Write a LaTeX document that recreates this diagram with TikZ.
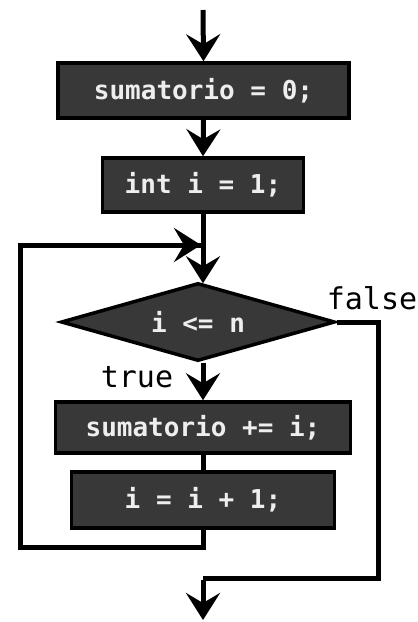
\documentclass[tikz,border=0pt]{standalone}
\usepackage{fontspec}
\setmonofont{DejaVu Sans Mono}
\usetikzlibrary{shapes.geometric,arrows.meta}
\definecolor{boxfill}{HTML}{383838}
\definecolor{boxtext}{HTML}{EEEEEE}
\tikzset{
  stepbox/.style={draw=black,line width=3.5pt,fill=boxfill,text=boxtext,font=\ttfamily\bfseries\fontsize{26}{30}\selectfont,inner sep=0pt},
  condbox/.style={shape=diamond,aspect=3.5,draw=black,line width=3.5pt,fill=boxfill,text=boxtext,font=\ttfamily\bfseries\fontsize{26}{30}\selectfont,inner sep=0pt,minimum width=274pt,minimum height=78pt},
  flow/.style={line width=5pt,draw=black},
  arr/.style={flow,-{Stealth[width=34pt,length=27pt,inset=10pt]}},
  lbl/.style={font=\ttfamily\fontsize{30}{34}\selectfont,text=black,inner sep=0pt}
}
\begin{document}
\begin{tikzpicture}[x=1pt,y=-1pt]
\useasboundingbox (0,0) rectangle (418,622);
\coordinate (s) at (203,10);
\node[stepbox,minimum width=291pt,minimum height=55pt] (b1) at (203.5,90.5) {sumatorio = 0;};
\node[stepbox,minimum width=201pt,minimum height=54pt] (b2) at (203,185) {int i = 1;};
\coordinate (j) at (203,245);
\node[condbox] (d) at (198,322) {i <= n};
\node[stepbox,minimum width=295pt,minimum height=51pt] (b3) at (203,427.5) {sumatorio += i;};
\node[stepbox,minimum width=263pt,minimum height=56pt] (b4) at (203,500) {i = i + 1;};
\coordinate (lb) at (203,547);
\coordinate (ll) at (20,547);
\coordinate (lt) at (20,245);
\coordinate (fr) at (378,322);
\coordinate (fb) at (378,578);
\coordinate (fm) at (203,578);
\coordinate (e) at (203,620);
\node[lbl] (tl) at (137,377) {true};
\node[lbl] (fl) at (372,298) {false};
\draw[arr] (s) -- (b1.north);
\draw[arr] (b1.south) -- (b2.north);
\draw[flow] (b2.south) -- (j);
\draw[arr] (j) -- ([yshift=-2pt]d.north -| j);
\draw[arr] (d.south -| j) -- (b3.north);
\draw[flow] (b3.south) -- (b4.north);
\draw[flow,line join=miter] (b4.south) -- (lb) -- (ll) -- (lt) -- ([xshift=-2pt]j);
\draw[arr] (lt) -- ([xshift=-2pt]j);
\draw[flow,line join=miter] (d.east) -- (fr) -- (fb) -- (fm);
\draw[arr] ([yshift=-2pt]fm) -- (e);
\end{tikzpicture}
\end{document}
